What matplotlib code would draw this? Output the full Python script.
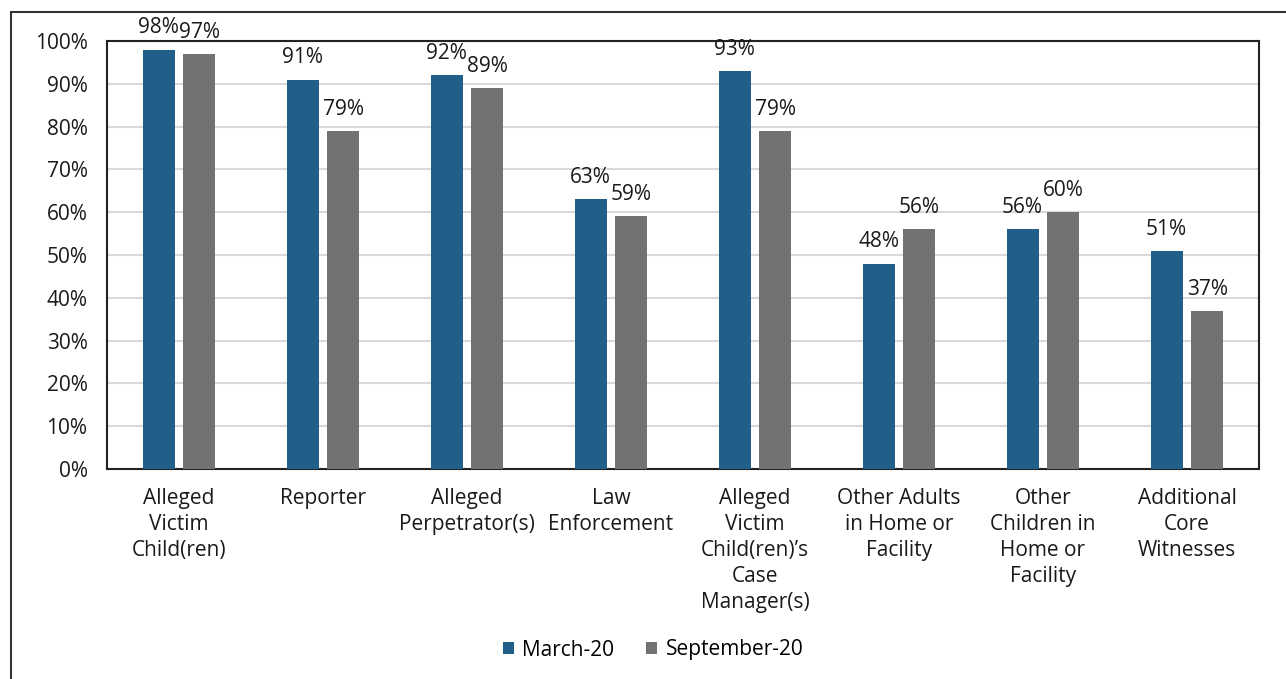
import matplotlib.pyplot as plt
import numpy as np
from matplotlib.patches import Rectangle

plt.rcParams['font.family'] = ['Open Sans', 'DejaVu Sans']

# 数据
categories = ['Alleged\nVictim\nChild(ren)', 'Reporter', 'Alleged\nPerpetrator(s)',
              'Law\nEnforcement', 'Alleged\nVictim\nChild(ren)’s\nCase\nManager(s)',
              'Other Adults\nin Home or\nFacility', 'Other\nChildren in\nHome or\nFacility',
              'Additional\nCore\nWitnesses']
march = [98, 91, 92, 63, 93, 48, 56, 51]
september = [97, 79, 89, 59, 79, 56, 60, 37]
series_names = ['March-20', 'September-20']
colors = ['#215E8A', '#727272']
fs = 15

fig = plt.figure(figsize=(12.86, 6.79), dpi=100)
ax = fig.add_axes([107/1286, 1 - 469/679, 1152/1286, 428/679])

x = np.arange(len(categories))
w = 0.222
off = 0.142
for vals, sign, name, c in zip([march, september], [-1, 1], series_names, colors):
    bars = ax.bar(x + sign*off, vals, w, color=c, label=name, zorder=3)
    for b, v in zip(bars, vals):
        ax.text(b.get_x() + b.get_width()/2, v + 2.6, f'{v}%', ha='center', va='bottom',
                fontsize=fs, color='#1a1a1a', zorder=4)

ax.set_xlim(-0.5, len(categories) - 0.5)
ax.set_ylim(0, 100)
ax.set_yticks(range(0, 101, 10))
ax.set_yticklabels([f'{t}%' for t in range(0, 101, 10)], fontsize=fs, color='#1a1a1a')
ax.set_xticks(x)
ax.set_xticklabels(categories, fontsize=fs, color='#1a1a1a', linespacing=1.3)
ax.tick_params(length=0)
ax.tick_params(axis='y', pad=14)
ax.tick_params(axis='x', pad=14)
ax.yaxis.grid(True, color='#d9d9d9', lw=1.5, zorder=0)
for s in ax.spines.values():
    s.set_color('#222222')
    s.set_linewidth(1.5)

ax.legend(loc='center', bbox_to_anchor=((653 - 107)/1152, (469 - 650)/428),
          ncol=2, frameon=False, fontsize=fs, handlelength=0.55, handleheight=0.55,
          handletextpad=0.4, columnspacing=1.5)

# 外框
fig.patches.append(Rectangle((11/1286, -0.05), 1.1, 1 - 12/679 + 0.05,
                             transform=fig.transFigure, fill=False,
                             edgecolor='#333333', lw=1.5))

plt.savefig('out.png', dpi=100)
